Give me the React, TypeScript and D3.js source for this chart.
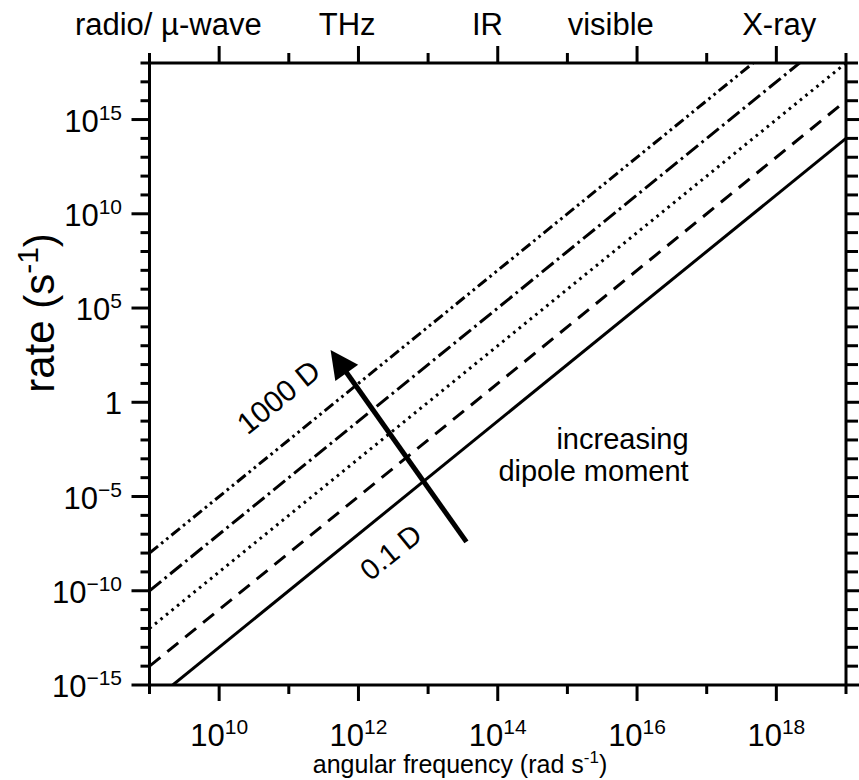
import { useEffect, useRef } from 'react'
import * as d3 from 'd3'

// line ends (rate at 1e9 and 1e19 rad/s)
const freqEnds = [1e9, 1e19]
const dipoleLabels = ['0.1 D', '1 D', '10 D', '100 D', '1000 D']
const rateAtLowEnd = [1e-16, 1e-14, 1e-12, 1e-10, 1e-8]
const rateAtHighEnd = [1e14, 1e16, 1e18, 1e20, 1e22]

const xMajorTicks = [1e10, 1e12, 1e14, 1e16, 1e18]
const xMajorExp = ['10', '12', '14', '16', '18']
const xMinorTicks = [1e9, 1e11, 1e13, 1e15, 1e17, 1e19]
const yMajorTicks = [1e-15, 1e-10, 1e-5, 1, 1e5, 1e10, 1e15]
const yMajorBase = ['10', '10', '10', '1', '10', '10', '10']
const yMajorExp = ['\u221215', '\u221210', '\u22125', '', '5', '10', '15']

const bandLabels = ['radio/ \u00b5-wave', 'THz', 'IR', 'visible', 'X-ray']
const bandFreqs = [1.86e9, 6.9e11, 7.1e13, 4.2e15, 1.1e18]

// annotation anchors in data space
const arrowTail = [3.55e13, 3.9e-8]
const arrowTip = [3.98e11, 590]
const label1000At = [7.1e10, 1.9]
const label01At = [2.9e12, 1.15e-8]
const noteAt = [5.5e16, 3.3e-3]

const lineDash = ['none', '14 9', '2.6 4.5', '15 4.5 2.6 4.5', '11 4 2.6 4 2.6 4']

const width = 859
const height = 780
const M = { left: 149.5, right: 846, top: 63, bottom: 685 }
const FONT = "'Liberation Sans', Arial, Helvetica, sans-serif"

function App() {
  const ref = useRef<SVGSVGElement>(null)

  useEffect(() => {
    drawChart()
  }, [])

  const drawChart = () => {
    const svg = d3.select(ref.current)
    svg.selectAll('*').remove()
    svg.attr('font-family', FONT)

    const x = d3.scaleLog().domain([1e9, 1e19]).range([M.left, M.right])
    const y = d3.scaleLog().domain([1e-15, 1e18]).range([M.bottom, M.top])

    svg
      .append('clipPath')
      .attr('id', 'plot-clip')
      .append('rect')
      .attr('x', M.left)
      .attr('y', M.top)
      .attr('width', M.right - M.left)
      .attr('height', M.bottom - M.top)

    // data lines
    const line = d3
      .line<number[]>()
      .x((d) => x(d[0]))
      .y((d) => y(d[1]))
    const lines = svg.append('g').attr('clip-path', 'url(#plot-clip)')
    dipoleLabels.forEach((_, i) => {
      lines
        .append('path')
        .datum([
          [freqEnds[0], rateAtLowEnd[i]],
          [freqEnds[1], rateAtHighEnd[i]],
        ])
        .attr('fill', 'none')
        .attr('stroke', '#000')
        .attr('stroke-width', 3)
        .attr('stroke-dasharray', lineDash[i])
        .attr('d', line)
    })

    // axes frame
    const axis = svg.append('g').attr('stroke', '#000').attr('stroke-width', 3)
    axis.append('line').attr('x1', M.left).attr('x2', M.left).attr('y1', M.top).attr('y2', M.bottom)
    axis.append('line').attr('x1', M.right).attr('x2', M.right).attr('y1', M.top).attr('y2', M.bottom)
    axis.append('line').attr('x1', M.left).attr('x2', M.right).attr('y1', M.top).attr('y2', M.top)
    axis.append('line').attr('x1', M.left).attr('x2', M.right).attr('y1', M.bottom).attr('y2', M.bottom)

    // x ticks (top and bottom)
    xMinorTicks.forEach((t) => {
      axis.append('line').attr('x1', x(t)).attr('x2', x(t)).attr('y1', M.bottom).attr('y2', M.bottom + 9)
      axis.append('line').attr('x1', x(t)).attr('x2', x(t)).attr('y1', M.top).attr('y2', M.top - 10)
    })
    xMajorTicks.forEach((t) => {
      axis.append('line').attr('x1', x(t)).attr('x2', x(t)).attr('y1', M.bottom).attr('y2', M.bottom + 16)
      axis.append('line').attr('x1', x(t)).attr('x2', x(t)).attr('y1', M.top).attr('y2', M.top - 17)
    })

    // y ticks (left and right)
    const yMinor = d3.range(-15, 19).map((e) => Math.pow(10, e))
    yMinor.forEach((t) => {
      const major = yMajorTicks.some((m) => Math.abs(Math.log10(m) - Math.log10(t)) < 1e-6)
      const yl = major ? 18 : 9
      const yr = major ? 18 : 12
      axis.append('line').attr('x1', M.left).attr('x2', M.left - yl).attr('y1', y(t)).attr('y2', y(t))
      axis.append('line').attr('x1', M.right).attr('x2', M.right + yr).attr('y1', y(t)).attr('y2', y(t))
    })

    // bottom tick labels
    xMajorTicks.forEach((t, i) => {
      const txt = svg
        .append('text')
        .attr('x', x(t))
        .attr('y', 746)
        .attr('text-anchor', 'middle')
        .attr('font-size', 31)
      txt.append('tspan').text('10')
      txt.append('tspan').attr('dy', -12).attr('font-size', 21).text(xMajorExp[i])
    })

    // left tick labels
    yMajorTicks.forEach((t, i) => {
      const txt = svg
        .append('text')
        .attr('x', 122)
        .attr('y', y(t) + 12)
        .attr('text-anchor', 'end')
        .attr('font-size', 31)
      txt.append('tspan').text(yMajorBase[i])
      if (yMajorExp[i]) txt.append('tspan').attr('dy', -12).attr('font-size', 21).text(yMajorExp[i])
    })

    // spectral bands on top
    bandLabels.forEach((b, i) => {
      svg
        .append('text')
        .attr('x', x(bandFreqs[i]))
        .attr('y', 35)
        .attr('text-anchor', 'middle')
        .attr('font-size', 31)
        .text(b)
    })

    // axis titles
    const xt = svg
      .append('text')
      .attr('x', 460)
      .attr('y', 773)
      .attr('text-anchor', 'middle')
      .attr('font-size', 25)
    xt.append('tspan').text('angular frequency (rad s')
    xt.append('tspan').attr('dy', -10).attr('font-size', 17).text('-1')
    xt.append('tspan').attr('dy', 10).text(')')

    const yt = svg
      .append('text')
      .attr('transform', `translate(54,313) rotate(-90)`)
      .attr('text-anchor', 'middle')
      .attr('font-size', 42)
    yt.append('tspan').text('rate (s')
    yt.append('tspan').attr('dy', -16).attr('font-size', 30).text('-1')
    yt.append('tspan').attr('dy', 16).text(')')

    // arrow
    const tx = x(arrowTail[0])
    const ty = y(arrowTail[1])
    const hx = x(arrowTip[0])
    const hy = y(arrowTip[1])
    const len = Math.hypot(hx - tx, hy - ty)
    const ux = (hx - tx) / len
    const uy = (hy - ty) / len
    const headLen = 28
    const headHalf = 14
    const bx = hx - ux * headLen
    const by = hy - uy * headLen
    svg
      .append('line')
      .attr('x1', tx)
      .attr('y1', ty)
      .attr('x2', bx + ux * 2)
      .attr('y2', by + uy * 2)
      .attr('stroke', '#000')
      .attr('stroke-width', 5)
    svg
      .append('polygon')
      .attr(
        'points',
        [
          [hx, hy],
          [bx - uy * headHalf, by + ux * headHalf],
          [bx + uy * headHalf, by - ux * headHalf],
        ]
          .map((p) => p.join(','))
          .join(' ')
      )
      .attr('fill', '#000')

    // labels along the lines
    const angle =
      (Math.atan2(
        y(rateAtHighEnd[0]) - y(rateAtLowEnd[0]),
        x(freqEnds[1]) - x(freqEnds[0])
      ) *
        180) /
      Math.PI
    svg
      .append('text')
      .attr('transform', `translate(${x(label1000At[0])},${y(label1000At[1])}) rotate(${angle})`)
      .attr('text-anchor', 'middle')
      .attr('dy', '0.35em')
      .attr('font-size', 30)
      .text(dipoleLabels[4])
    svg
      .append('text')
      .attr('transform', `translate(${x(label01At[0])},${y(label01At[1])}) rotate(${angle})`)
      .attr('text-anchor', 'middle')
      .attr('dy', '0.35em')
      .attr('font-size', 29)
      .text(dipoleLabels[0])

    const note = svg
      .append('text')
      .attr('x', x(noteAt[0]))
      .attr('y', y(noteAt[1]))
      .attr('text-anchor', 'end')
      .attr('font-size', 29)
    note.append('tspan').attr('x', x(noteAt[0])).text('increasing')
    note.append('tspan').attr('x', x(noteAt[0])).attr('dy', 32).text('dipole moment')
  }

  return (
    <svg
      ref={ref}
      width={width}
      height={height}
      style={{ position: 'absolute', left: 0, top: 0, background: '#fff' }}
    />
  )
}

export default App
